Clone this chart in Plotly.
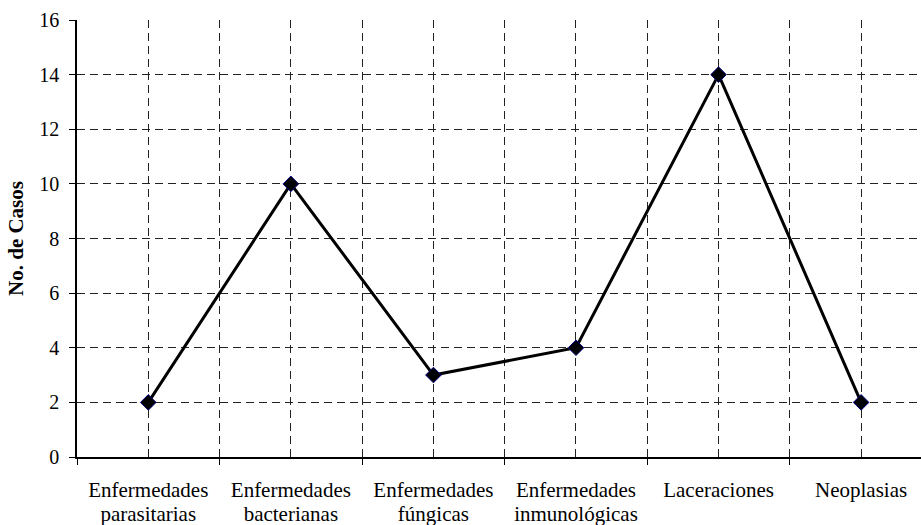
import plotly.graph_objects as go

# Category labels split into their two printed lines
linea_1 = ["Enfermedades", "Enfermedades", "Enfermedades",
           "Enfermedades", "Laceraciones", "Neoplasias"]
linea_2 = ["parasitarias", "bacterianas", "fúngicas",
           "inmunológicas", "", ""]
casos = [2, 10, 3, 4, 14, 2]
y_ticks = [0, 2, 4, 6, 8, 10, 12, 14, 16]

posiciones = list(range(len(linea_1)))
fuente = "Liberation Serif, Times New Roman, serif"
rejilla = dict(showgrid=True, gridcolor="#222222", gridwidth=1,
               griddash="8px,5px")

fig = go.Figure()
fig.add_trace(go.Scatter(
    x=posiciones,
    y=casos,
    mode="lines+markers",
    line=dict(color="black", width=3),
    marker=dict(symbol="diamond", size=12, color="black",
                line=dict(color="#000080", width=1)),
    showlegend=False,
    cliponaxis=False,
))

fig.update_layout(
    width=921, height=525,
    margin=dict(l=77, r=0, t=20, b=68),
    paper_bgcolor="white",
    plot_bgcolor="white",
    font=dict(family=fuente, size=20, color="black"),
    xaxis=dict(
        range=[-0.5, 5.42],
        tickmode="array",
        tickvals=posiciones,
        ticktext=linea_1,
        ticks="",
        showline=True,
        linecolor="black",
        linewidth=1.5,
        zeroline=False,
        ticklabelstandoff=13,
        tickfont=dict(family=fuente, size=21),
        minor=dict(tick0=-0.5, dtick=1, ticks="outside", ticklen=6,
                   tickcolor="black", tickwidth=1, **rejilla),
        **rejilla,
    ),
    # second text line of each category, set lower on its own axis
    xaxis2=dict(
        overlaying="x",
        matches="x",
        anchor="y",
        side="bottom",
        tickmode="array",
        tickvals=posiciones,
        ticktext=linea_2,
        ticks="",
        showgrid=False,
        showline=False,
        zeroline=False,
        ticklabelstandoff=42,
        tickfont=dict(family=fuente, size=21),
    ),
    yaxis=dict(
        range=[0, 16],
        tickmode="array",
        tickvals=y_ticks,
        ticks="outside",
        ticklen=6,
        tickcolor="black",
        showline=True,
        linecolor="black",
        linewidth=1.5,
        zeroline=False,
        ticklabelstandoff=6,
        tickfont=dict(family=fuente, size=20),
        title=dict(text="<b>No. de Casos</b>",
                   font=dict(family=fuente, size=21), standoff=10),
        **rejilla,
    ),
)

# invisible trace so the second category axis is drawn
fig.add_trace(go.Scatter(x=posiciones, y=casos, xaxis="x2", mode="none",
                         showlegend=False, hoverinfo="skip"))

fig.write_html("out.html")
